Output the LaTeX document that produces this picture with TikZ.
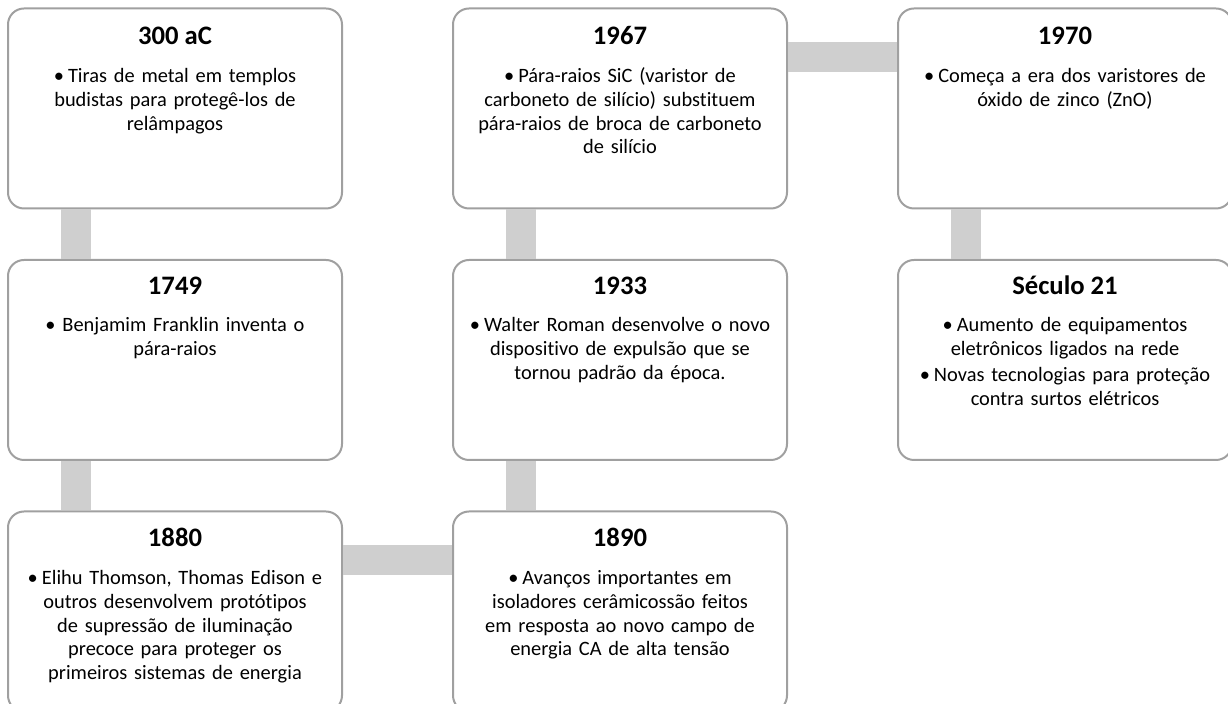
\documentclass[tikz,border=0pt]{standalone}
\usepackage{fontspec}
\setmainfont{Carlito}[Ligatures=NoCommon]
\usetikzlibrary{positioning}

\definecolor{boxgray}{HTML}{A0A0A0}
\definecolor{linkgray}{HTML}{CFCFCF}

\newcommand{\evdot}{\textbullet\hspace{2pt}}

\tikzset{
    evbox/.style={draw=boxgray, line width=1pt, rounded corners=8pt, fill=white,
        minimum width=167pt, minimum height=100pt, inner sep=0pt},
    evyear/.style={anchor=base, inner sep=0pt, font=\fontsize{13.33}{16}\selectfont\bfseries},
    evtext/.style={anchor=base, inner sep=0pt, text width=164pt, align=center,
        font=\fontsize{10.2}{11.9}\selectfont},
    link/.style={draw=linkgray, line width=15pt},
}

\begin{document}
\begin{tikzpicture}[node distance=24.75pt and 54.5pt]
    \clip (0,0) rectangle (614pt,-352pt);

    % linha do tempo
    \node [evbox] (b300) at (87.5pt,-54.25pt) {};
    \node [evbox, below=of b300] (b1749) {};
    \node [evbox, below=of b1749] (b1880) {};
    \node [evbox, right=of b1880] (b1890) {};
    \node [evbox, above=of b1890] (b1933) {};
    \node [evbox, above=of b1933] (b1967) {};
    \node [evbox, right=of b1967] (b1970) {};
    \node [evbox, below=of b1970] (b21) {};

    \draw [link] ([xshift=34.5pt]b300.south west) -- ([xshift=34.5pt]b1749.north west);
    \draw [link] ([xshift=34.5pt]b1749.south west) -- ([xshift=34.5pt]b1880.north west);
    \draw [link] ([yshift=-24.75pt]b1880.north east) -- ([yshift=-24.75pt]b1890.north west);
    \draw [link] ([xshift=34.5pt]b1890.north west) -- ([xshift=34.5pt]b1933.south west);
    \draw [link] ([xshift=34.5pt]b1933.north west) -- ([xshift=34.5pt]b1967.south west);
    \draw [link] ([yshift=-24.75pt]b1967.north east) -- ([yshift=-24.75pt]b1970.north west);
    \draw [link] ([xshift=34.5pt]b1970.south west) -- ([xshift=34.5pt]b21.north west);

    \node [evyear] (t300) at ([yshift=-18.5pt]b300.north) {300 aC};
    \node [evtext] (x300) at ([yshift=-37.5pt]b300.north)
        {\evdot Tiras de metal em templos\\ budistas para protegê-los de\\ relâmpagos};

    \node [evyear] (t1749) at ([yshift=-18pt]b1749.north) {1749};
    \node [evtext] (x1749) at ([yshift=-36.5pt]b1749.north)
        {\textbullet\ Benjamim Franklin inventa o\\ pára-raios};

    \node [evyear] (t1880) at ([yshift=-18pt]b1880.north) {1880};
    \node [evtext] (x1880) at ([yshift=-37pt]b1880.north)
        {\evdot Elihu Thomson, Thomas Edison e\\ outros desenvolvem protótipos\\ de supressão de iluminação\\ precoce para proteger os\\ primeiros sistemas de energia};

    \node [evyear] (t1890) at ([yshift=-18pt]b1890.north) {1890};
    \node [evtext] (x1890) at ([yshift=-37pt]b1890.north)
        {\evdot Avanços importantes em\\ isoladores cerâmicossão feitos\\ em resposta ao novo campo de\\ energia CA de alta tensão};

    \node [evyear] (t1933) at ([yshift=-18pt]b1933.north) {1933};
    \node [evtext] (x1933) at ([yshift=-36.5pt]b1933.north)
        {\evdot Walter Roman desenvolve o novo\\ dispositivo de expulsão que se\\ tornou padrão da época.};

    \node [evyear] (t1967) at ([yshift=-18.5pt]b1967.north) {1967};
    \node [evtext] (x1967) at ([yshift=-37.5pt]b1967.north)
        {\evdot Pára-raios SiC (varistor de\\ carboneto de silício) substituem\\ pára-raios de broca de carboneto\\ de silício};

    \node [evyear] (t1970) at ([yshift=-18.5pt]b1970.north) {1970};
    \node [evtext] (x1970) at ([yshift=-37.5pt]b1970.north)
        {\evdot Começa a era dos varistores de\\ óxido de zinco (ZnO)};

    \node [evyear] (t21) at ([yshift=-18pt]b21.north) {Século 21};
    \node [evtext] (x21) at ([yshift=-36.5pt]b21.north)
        {\evdot Aumento de equipamentos\\ eletrônicos ligados na rede\\[1pt] \evdot Novas tecnologias para proteção\\ contra surtos elétricos};
\end{tikzpicture}
\end{document}
